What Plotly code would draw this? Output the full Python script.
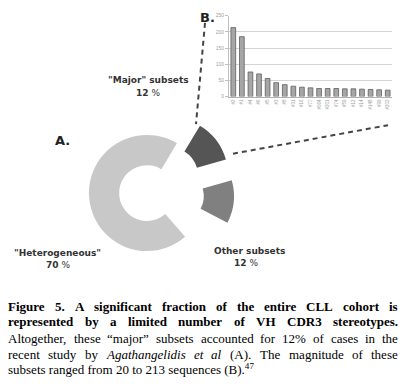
import plotly.graph_objects as go

# ---- data ----
subset_labels = ["#2", "#1", "#4", "#6", "#5", "#3", "#8", "#31", "#16", "#77",
                 "#064", "#201", "#74", "#59", "#12", "#14", "#148", "#99", "#202"]
subset_sizes = [213, 185, 76, 70, 56, 43, 37, 32, 29, 27,
                25, 25, 25, 24, 24, 23, 22, 21, 20]

donut_labels = ["\"Major\" subsets", "Other subsets", "Unassigned", "\"Heterogeneous\""]
donut_values = [12, 12, 6, 70]
bar_ticks = [0, 50, 100, 150, 200, 250]

# page body has an 8px margin: the figure sits at (8, 8)
OFF = 8
W, H = 406 - OFF, 384 - OFF


def px(x):
    return (x - OFF) / W


def py(y):
    return 1 - (y - OFF) / H


fig = go.Figure()

# donut (A)
cx, cy, R, pull = 147, 193, 59, 0.5
half = R * (1 + pull)
fig.add_trace(go.Pie(
    labels=donut_labels,
    values=donut_values,
    sort=False,
    direction="clockwise",
    rotation=31,
    hole=0.48,
    pull=[pull, pull, 0, 0],
    marker=dict(colors=["#555555", "#808080", "rgba(0,0,0,0)", "#c8c8c8"],
                line=dict(width=0)),
    textinfo="none",
    hoverinfo="skip",
    showlegend=False,
    domain=dict(x=[px(cx - half), px(cx + half)], y=[py(cy + half), py(cy - half)]),
))

# bar chart (B)
fig.add_trace(go.Bar(
    x=subset_labels,
    y=subset_sizes,
    marker=dict(color="#a6a6a6", line=dict(color="#5e5e5e", width=0.8)),
    showlegend=False,
    hoverinfo="skip",
))

fig.update_layout(
    width=W, height=H,
    margin=dict(l=0, r=0, t=0, b=0),
    paper_bgcolor="white",
    plot_bgcolor="white",
    bargap=0.45,
    xaxis=dict(domain=[px(229), px(392)], tickangle=-90,
               tickfont=dict(size=4.5, color="#9a9a9a", family="Liberation Sans"),
               showline=True, linecolor="#b0b0b0", linewidth=1,
               ticks="", fixedrange=True),
    yaxis=dict(domain=[py(95), py(12.7)], range=[0, 250], tickvals=bar_ticks,
               tickfont=dict(size=5, color="#a0a0a0", family="Liberation Sans"),
               showgrid=True, gridcolor="#d4d4d4", gridwidth=1,
               showline=True, linecolor="#c0c0c0", linewidth=1,
               ticks="outside", ticklen=3, tickcolor="#c0c0c0",
               zeroline=False, fixedrange=True),
)

# dashed connector lines
for (x0, y0, x1, y1) in [(205, 20, 196, 123), (233, 153, 388, 124)]:
    fig.add_shape(type="line", xref="paper", yref="paper",
                  x0=px(x0), y0=py(y0), x1=px(x1), y1=py(y1),
                  line=dict(color="#444444", width=2, dash="5px,4px"))

lab_font = dict(family="DejaVu Sans", size=9, color="#333333")
ann = [
    (148, 78, "<b>\"Major\" subsets</b>", lab_font),
    (148, 91, "<b>12</b> %", lab_font),
    (58, 254, "<b>\"Heterogeneous\"</b>", lab_font),
    (58, 266, "<b>70</b> %", lab_font),
    (249, 252, "<b>Other subsets</b>", lab_font),
    (246, 264, "<b>12</b> %", lab_font),
    (63, 140, "<b>A.</b>", dict(family="DejaVu Sans", size=13, color="#222222")),
    (207, 15, "<b>B.</b>", dict(family="DejaVu Sans", size=13, color="#222222")),
]
for x, y, t, f in ann:
    fig.add_annotation(x=px(x), y=py(y), xref="paper", yref="paper", text=t,
                       showarrow=False, font=f, xanchor="center", yanchor="middle")

# ---- caption (justified like the original) ----
REG = dict(zip("abcdefghijklmnopqrstuvwxyz",
               [444, 500, 444, 500, 444, 333, 500, 500, 278, 278, 500, 278, 778,
                500, 500, 500, 500, 333, 389, 278, 500, 500, 722, 500, 500, 444]))
REG.update(dict(zip("ABCDEFGHIJKLMNOPQRSTUVWXYZ",
                    [722, 667, 667, 722, 611, 556, 722, 722, 333, 389, 722, 611, 889,
                     722, 722, 556, 722, 667, 556, 611, 722, 722, 944, 722, 722, 611])))
BOLD = dict(zip("abcdefghijklmnopqrstuvwxyz",
                [500, 556, 444, 556, 444, 333, 500, 556, 278, 333, 556, 278, 833,
                 556, 500, 556, 556, 444, 389, 333, 556, 500, 722, 500, 500, 444]))
BOLD.update(dict(zip("ABCDEFGHIJKLMNOPQRSTUVWXYZ",
                     [722, 667, 722, 722, 667, 611, 778, 778, 389, 500, 778, 667, 944,
                      722, 778, 611, 778, 722, 556, 667, 722, 722, 1000, 722, 722, 667])))
ITAL = dict(zip("abcdefghijklmnopqrstuvwxyz",
                [500, 500, 444, 500, 444, 278, 500, 500, 278, 278, 444, 278, 722,
                 500, 500, 500, 500, 389, 389, 278, 500, 444, 667, 444, 444, 389]))
ITAL.update({"A": 611})
PUNCT = {" ": 250, ".": 250, ",": 250, "(": 333, ")": 333, "%": 833,
         "\u201c": 444, "\u201d": 444}


def word_width(word, style, size):
    table = {"b": BOLD, "i": ITAL}.get(style, REG)
    tot = 0
    for ch in word:
        if ch.isdigit():
            tot += 500
        elif ch in table:
            tot += table[ch]
        else:
            tot += PUNCT.get(ch, 500)
    return tot * size / 1000


CAP_SIZE = 13
cap_font = dict(family="Liberation Serif", size=CAP_SIZE, color="#000000")
LEFT, RIGHT = 8, 398

justified_lines = [
    [(w, "b") for w in "Figure 5. A significant fraction of the entire CLL cohort is".split()],
    [(w, "b") for w in "represented by a limited number of VH CDR3 stereotypes.".split()],
    [(w, "") for w in "Altogether, these \u201cmajor\u201d subsets accounted for 12% of cases in the".split()],
    [(w, "") for w in "recent study by".split()] + [("Agathangelidis", "i"), ("et", "i"), ("al", "i")]
    + [(w, "") for w in "(A). The magnitude of these".split()],
]
last_line = "subsets ranged from 20 to 213 sequences (B).<sup>47</sup>"
line_y = [308, 324, 341, 357, 372]


def styled(w, s):
    return "<%s>%s</%s>" % (s, w, s) if s else w


for li, words in enumerate(justified_lines):
    widths = [word_width(w, s, CAP_SIZE) for w, s in words]
    gap = (RIGHT - LEFT - sum(widths)) / (len(words) - 1)
    x = LEFT
    for i, ((w, s), ww) in enumerate(zip(words, widths)):
        last = i == len(words) - 1
        fig.add_annotation(x=px(RIGHT if last else x), y=py(line_y[li]),
                           xref="paper", yref="paper", text=styled(w, s),
                           showarrow=False, font=cap_font, borderpad=0, borderwidth=0,
                           xanchor="right" if last else "left", yanchor="middle")
        x += ww + gap

fig.add_annotation(x=px(LEFT), y=py(line_y[4]), xref="paper", yref="paper",
                   text=last_line, showarrow=False, font=cap_font,
                   borderpad=0, borderwidth=0, xanchor="left", yanchor="middle")

fig.write_html("out.html")
